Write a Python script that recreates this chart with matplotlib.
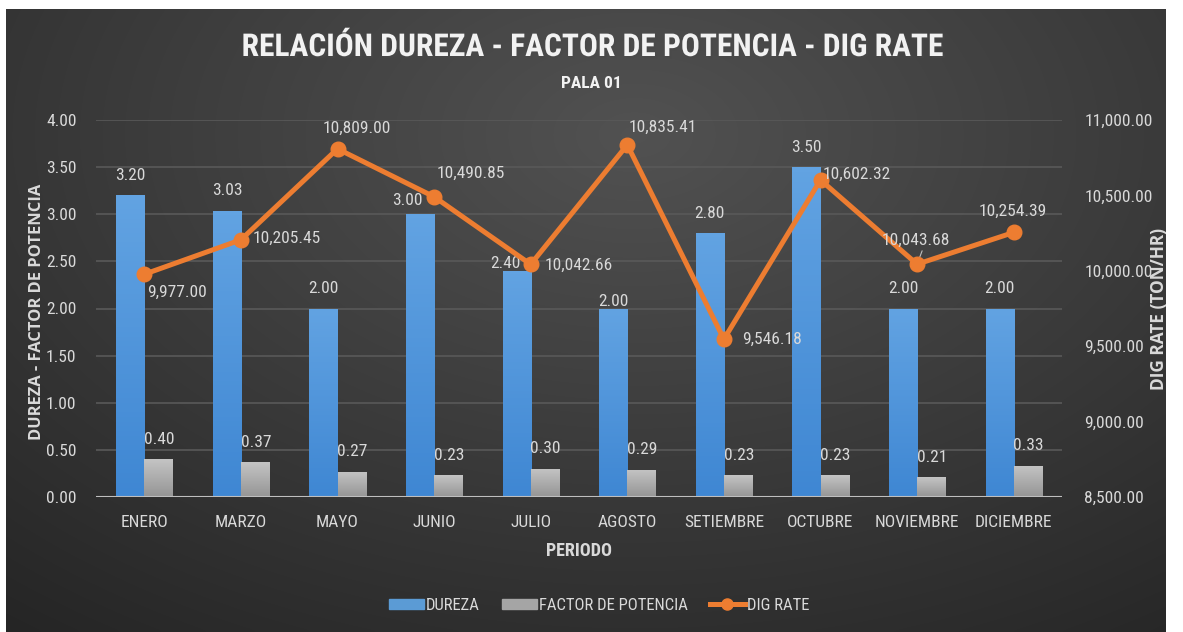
import numpy as np
import matplotlib
matplotlib.use("Agg")
import matplotlib.pyplot as plt
import matplotlib.patheffects as pe
from matplotlib import font_manager
from matplotlib.colors import LinearSegmentedColormap
from matplotlib.lines import Line2D
from matplotlib.patches import Patch
from matplotlib.ticker import FuncFormatter, MultipleLocator

# data
periodos = ["ENERO", "MARZO", "MAYO", "JUNIO", "JULIO", "AGOSTO",
            "SETIEMBRE", "OCTUBRE", "NOVIEMBRE", "DICIEMBRE"]
dureza = [3.20, 3.03, 2.00, 3.00, 2.40, 2.00, 2.80, 3.50, 2.00, 2.00]
factor_potencia = [0.40, 0.37, 0.27, 0.23, 0.30, 0.29, 0.23, 0.23, 0.21, 0.33]
dig_rate = [9977.00, 10205.45, 10809.00, 10490.85, 10042.66, 10835.41,
            9546.18, 10602.32, 10043.68, 10254.39]
# label offsets (pixels) as the labels were placed in the original
dig_offsets = [(33, -18), (46, 1), (19, 20), (37, 23), (48, -1), (36, 17),
               (48, 0), (36, 6), (-1, 24), (-1, 21)]
dureza_offsets = [(0, 20), (0, 21), (0, 20), (-13, 14), (-11, 7), (0, 7),
                  (0, 20), (0, 20), (0, 20), (0, 20)]

# pick a narrow face if one is around (the original uses Calibri)
fonts = {(f.name, f.stretch) for f in font_manager.fontManager.ttflist}
if any(n == 'Roboto Condensed' for n, s in fonts):
    plt.rcParams['font.family'] = ['Roboto Condensed', 'DejaVu Sans']
    fs = 12.5
elif ('DejaVu Sans', 'condensed') in fonts:
    plt.rcParams['font.family'] = ['DejaVu Sans']
    plt.rcParams['font.stretch'] = 'condensed'
    fs = 11.5
else:
    plt.rcParams['font.family'] = ['Liberation Sans', 'DejaVu Sans']
    fs = 11.5
wide = ['Open Sans', 'DejaVu Sans']

TXT = '#d9d9d9'
BLUE = '#5b9bd5'
GRAY = '#a5a5a5'
ORANGE = '#ed7d31'
blue_grad = LinearSegmentedColormap.from_list('b', ['#3f87d3', '#62a3e2'])
gray_grad = LinearSegmentedColormap.from_list('g', ['#959595', '#c4c4c4'])

fig = plt.figure(figsize=(11.83, 6.32), dpi=100, facecolor='white')

# dark radial background
W, H = 1183, 632
bg = fig.add_axes([6 / W, 0, (1165 - 6) / W, (632 - 9) / H])
yy, xx = np.mgrid[0:200, 0:370]
d = np.sqrt(((xx - 200) / 330) ** 2 + ((yy - 40) / 210) ** 2)
shade = np.clip(0.32 - 0.18 * d, 0.12, 0.32)
bg.imshow(np.dstack([shade] * 3), aspect='auto', extent=(0, 1, 0, 1), interpolation='bicubic')
bg.set_axis_off()

ax = fig.add_axes([96 / W, 1 - 497 / H, (1062 - 96) / W, (497 - 120) / H])
ax.set_facecolor('none')
x = np.arange(len(periodos))
w = 0.29

bars1 = ax.bar(x - w / 2, dureza, w, color=BLUE, zorder=2)
bars2 = ax.bar(x + w / 2, factor_potencia, w, color=GRAY, zorder=2)

# soft vertical gradient inside each bar
grad = np.linspace(0, 1, 64).reshape(-1, 1)
for bars, cmap in [(bars1, blue_grad), (bars2, gray_grad)]:
    for b in bars:
        x0, y0 = b.get_x(), b.get_y()
        im = ax.imshow(grad, cmap=cmap, origin='lower', aspect='auto', zorder=2.1,
                       extent=(x0, x0 + b.get_width(), y0, y0 + b.get_height()))
        im.set_clip_path(b)
ax.set_aspect('auto')
ax.set_xlim(-0.5, len(periodos) - 0.5)
ax.set_ylim(0, 4)

ax.yaxis.set_major_locator(MultipleLocator(0.5))
ax.yaxis.set_major_formatter(FuncFormatter(lambda v, p: f"{v:.2f}"))
ax.set_xticks(x)
ax.set_xticklabels(periodos)
ax.grid(axis='y', color='#595959', linewidth=1.2, zorder=0)
ax.tick_params(length=0, colors=TXT, labelsize=fs, pad=13)
ax.tick_params(axis='y', pad=14)
for s in ax.spines.values():
    s.set_visible(False)
ax.axhline(0, color='#bfbfbf', linewidth=1.5, zorder=3)

for xi, v, (dx, dy) in zip(x, dureza, dureza_offsets):
    ax.annotate(f"{v:.2f}", (xi - w / 2, v), xytext=(dx, dy), textcoords='offset pixels',
                ha='center', va='center', color=TXT, fontsize=fs, zorder=5)
for xi, v in zip(x, factor_potencia):
    ax.annotate(f"{v:.2f}", (xi + w / 2, v), xytext=(1, 20), textcoords='offset pixels',
                ha='center', va='center', color=TXT, fontsize=fs, zorder=5)

ax.set_xlabel("PERIODO", color=TXT, fontsize=13, fontweight='bold')
ax.xaxis.set_label_coords(0.5, -0.12)
ax.set_ylabel("DUREZA - FACTOR DE POTENCIA", color=TXT, fontsize=12,
              fontweight='bold', family=wide)
ax.yaxis.set_label_coords(-0.053, 0.49)

ax2 = ax.twinx()
ax2.set_ylim(8500, 11000)
ax2.yaxis.set_major_locator(MultipleLocator(500))
ax2.yaxis.set_major_formatter(FuncFormatter(lambda v, p: f"{v:,.2f}"))
ax2.tick_params(length=0, colors=TXT, labelsize=fs, pad=16)
for s in ax2.spines.values():
    s.set_visible(False)
ax2.plot(x, dig_rate, color=ORANGE, linewidth=3.6, marker='o', markersize=10.5,
         zorder=4, solid_capstyle='round')
for xi, v, (dx, dy) in zip(x, dig_rate, dig_offsets):
    ax2.annotate(f"{v:,.2f}", (xi, v), xytext=(dx, dy), textcoords='offset pixels',
                 ha='center', va='center', color=TXT, fontsize=fs, zorder=5)
# leader line for NOVIEMBRE label
ax2.annotate("", (x[8], dig_rate[8]), xytext=(6, 16), textcoords='offset pixels',
             arrowprops=dict(arrowstyle='-', color='#bfbfbf', lw=0.8))
ax2.set_ylabel("DIG RATE (TON/HR)", color=TXT, fontsize=12, fontweight='bold', family=wide)
ax2.yaxis.set_label_coords(1.091, 0.5)

title = fig.text(0.5, 1 - 47 / H, "RELACIÓN DUREZA - FACTOR DE POTENCIA - DIG RATE",
                 ha='center', va='center', color='#f2f2f2', fontsize=22, fontweight='bold',
                 path_effects=[pe.withSimplePatchShadow(offset=(1.5, -1.5), alpha=0.6)])
fig.text(0.5, 1 - 83 / H, "PALA 01", ha='center', va='center', color='#f2f2f2',
         fontsize=fs, fontweight='bold')

# size title and axis titles to the extents they have in the original
fig.canvas.draw()
title.set_fontsize(22 * 700 / title.get_window_extent().width)
yl = ax.yaxis.label
yl.set_fontsize(12 * 255 / yl.get_window_extent().height)
yr = ax2.yaxis.label
yr.set_fontsize(12 * 162 / yr.get_window_extent().height)

handles = [Patch(color=BLUE), Patch(color=GRAY),
           Line2D([0], [0], color=ORANGE, linewidth=3.6, marker='o', markersize=8)]
fig.legend(handles, ["DUREZA", "FACTOR DE POTENCIA", "DIG RATE"], loc='center',
           bbox_to_anchor=(599 / W, 1 - 605 / H), ncol=3, frameon=False,
           labelcolor=TXT, fontsize=12, handlelength=2.1, handleheight=0.55,
           handletextpad=0.15, columnspacing=1.3)

fig.savefig("out.png", dpi=100)
